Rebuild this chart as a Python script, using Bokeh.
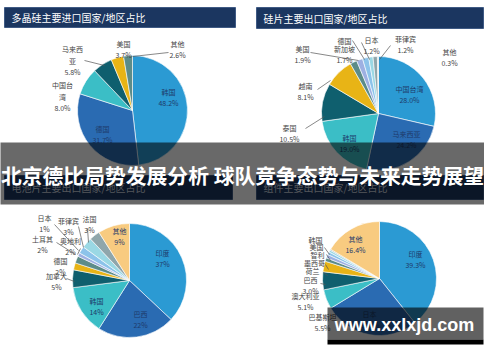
import math
from bokeh.plotting import figure
from bokeh.models import Range1d, ColumnDataSource
from bokeh.core.properties import value
from bokeh.embed import file_html
from bokeh.resources import INLINE

# ---------------- data ----------------
imp_title = "多晶硅主要进口国家/地区占比"
imp_names = ["韩国", "德国", "中国台湾", "马来西亚", "美国", "其他"]
imp_vals = [48.2, 31.7, 8.0, 5.8, 3.7, 2.6]

wafer_title = "硅片主要出口国家/地区占比"
wafer_names = ["中国台湾", "马来西亚", "韩国", "泰国", "越南", "美国", "德国", "新加坡", "日本", "菲律宾", "其他"]
wafer_vals = [28.0, 24.2, 19.0, 10.5, 8.1, 1.9, 1.7, 1.7, 1.2, 1.2, 0.3]

cell_title = "电池片主要出口国家/地区占比"
cell_names = ["印度", "巴西", "韩国", "加拿大", "德国", "土耳其", "日本", "奥地利", "菲律宾", "法国", "其他"]
cell_vals = [37, 22, 14, 5, 2, 2, 1, 2, 3, 3, 9]

mod_title = "组件主要出口国家/地区占比"
mod_names = ["印度", "日本", "巴基斯坦", "澳大利亚", "巴西", "荷兰", "墨西哥", "智利", "美国", "韩国", "其他"]
mod_vals = [39.3, 27.0, 5.5, 5.1, 3.0, 1.0, 1.0, 0.8, 0.6, 0.3, 16.4]

headline = "北京德比局势发展分析 球队竞争态势与未来走势展望"
watermark = "www.xxlxjd.com"

# ---------------- styles ----------------
H = 362
FONT = value("Noto Sans CJK SC")
C_LB, C_MB, C_TE, C_DT, C_GO = "#2B9AD3", "#2A6BB2", "#3BBEC6", "#0F5F6E", "#E8B416"
C_GT, C_LV, C_SK, C_CY, C_GR, C_PE = "#5C8C89", "#9DB0E2", "#8CC3EA", "#9AD8E4", "#8FA6AB", "#F8CB80"
NAVY = "#1B3660"
IN_TXT = "#1E3A6A"
OUT_TXT = "#444444"

def Y(y):
    return H - y

# 1 data unit == 1 screen pixel; the page margin of 8px is compensated by the ranges
p = figure(width=484, height=346, x_range=Range1d(8, 492), y_range=Range1d(8, 354),
           output_backend="svg", toolbar_location=None, min_border=0)
p.axis.visible = False
p.grid.visible = False
p.outline_line_color = None
p.background_fill_color = "white"
p.border_fill_color = "white"


def title_bar(x0, x1, y0, y1, text, tcolor="white"):
    p.quad(left=[x0], right=[x1], bottom=[Y(y1)], top=[Y(y0)], fill_color=NAVY,
           line_color="#2C4A78", line_width=0.8)
    p.text(x=[x0 + 7], y=[Y((y0 + y1) / 2)], text=[text], text_color=tcolor,
           text_font=FONT, text_font_size="10px", text_align="left", text_baseline="middle")


def pie(cx, cy, r, vals, colors):
    tot = sum(vals)
    cum = 0.0
    starts, ends = [], []
    for v in vals:
        a0 = math.pi / 2 - 2 * math.pi * (cum + v) / tot
        a1 = math.pi / 2 - 2 * math.pi * cum / tot
        starts.append(a0)
        ends.append(a1)
        cum += v
    src = ColumnDataSource(dict(x=[cx] * len(vals), y=[Y(cy)] * len(vals),
                                s=starts, e=ends, c=colors))
    p.wedge(x="x", y="y", radius=r, start_angle="s", end_angle="e", fill_color="c",
            line_color="white", line_width=0.6, source=src)


def labels(items, color):
    xs = [it[0] for it in items]
    ys = [Y(it[1]) for it in items]
    ts = [it[2] for it in items]
    p.text(x=xs, y=ys, text=ts, text_color=color, text_font=FONT, text_font_size="7px",
           text_align="center", text_baseline="middle", text_line_height=1.15)


def leaders(segs, color="#555555"):
    p.segment(x0=[s[0] for s in segs], y0=[Y(s[1]) for s in segs],
              x1=[s[2] for s in segs], y1=[Y(s[3]) for s in segs],
              line_color=color, line_width=0.7)


def pct(v, d=1):
    return ("%." + str(d) + "f%%") % v

# ---------------- top-left ----------------
title_bar(12, 243, 15, 35, imp_title)
pie(140, 118, 55, imp_vals, [C_LB, C_MB, C_TE, C_DT, C_GO, C_GT])
labels([(176, 105, imp_names[0] + "\n" + pct(imp_vals[0])),
        (110, 142, imp_names[1] + "\n" + pct(imp_vals[1]))], IN_TXT)
labels([(70, 104, "中国台\n湾\n" + pct(imp_vals[2])),
        (80, 68, "马来西\n亚\n" + pct(imp_vals[3])),
        (131, 57, imp_names[4] + "\n" + pct(imp_vals[4])),
        (185, 57, imp_names[5] + "\n" + pct(imp_vals[5]))], OUT_TXT)
leaders([(92, 68, 112, 73), (176, 60, 140, 64)])

# ---------------- top-right ----------------
title_bar(264, 491, 15, 36, wafer_title)
pie(386, 121, 57, wafer_vals, [C_LB, C_MB, C_TE, C_DT, C_GO, C_GT, C_LV, C_SK, C_CY, C_GR, "#B9C9CC"])
labels([(417, 102, wafer_names[0] + "\n" + pct(wafer_vals[0])),
        (414, 147, wafer_names[1] + "\n" + pct(wafer_vals[1])),
        (357, 151, wafer_names[2] + "\n" + pct(wafer_vals[2]))], IN_TXT)
labels([(297, 141, wafer_names[3] + "\n" + pct(wafer_vals[3])),
        (313, 99, wafer_names[4] + "\n" + pct(wafer_vals[4])),
        (310, 62, wafer_names[5] + "\n" + pct(wafer_vals[5])),
        (352, 48, wafer_names[6]),
        (352, 62, wafer_names[7] + "\n" + pct(wafer_vals[7])),
        (379, 53, wafer_names[8] + "\n" + pct(wafer_vals[8])),
        (413, 52, wafer_names[9] + "\n" + pct(wafer_vals[9])),
        (457, 65, wafer_names[10] + "\n" + pct(wafer_vals[10]))], OUT_TXT)
leaders([(313, 136, 332, 124), (325, 97, 338, 88), (318, 60, 366, 68),
         (360, 48, 372, 67), (369, 50, 377, 67), (398, 53, 387, 67)])

# ---------------- bottom-left ----------------
title_bar(12, 240, 183, 207, cell_title, tcolor="#C8CFDA")
pie(137, 288, 57, cell_vals, [C_LB, C_MB, C_TE, C_DT, C_GO, C_GT, C_LV, C_SK, C_CY, C_GR, C_PE])
labels([(170, 266, cell_names[0] + "\n" + pct(cell_vals[0], 0)),
        (148, 327, cell_names[1] + "\n" + pct(cell_vals[1], 0)),
        (104, 314, cell_names[2] + "\n" + pct(cell_vals[2], 0)),
        (127, 244, cell_names[10] + "\n" + pct(cell_vals[10], 0))], IN_TXT)
labels([(64, 289, cell_names[3] + "\n" + pct(cell_vals[3], 0)),
        (68, 274, cell_names[4] + "\n" + pct(cell_vals[4], 0)),
        (50, 252, cell_names[5] + "\n" + pct(cell_vals[5], 0)),
        (52, 231, cell_names[6] + "\n" + pct(cell_vals[6], 0)),
        (78, 254, cell_names[7] + "\n" + pct(cell_vals[7], 0)),
        (76, 234, cell_names[8] + "\n" + pct(cell_vals[8], 0)),
        (97, 232, cell_names[9] + "\n" + pct(cell_vals[9], 0))], OUT_TXT)
leaders([(74, 286, 82, 289), (62, 232, 86, 258), (86, 234, 91, 255),
         (95, 236, 96, 250), (88, 256, 85, 262), (64, 250, 83, 262)])

# ---------------- bottom-right ----------------
title_bar(264, 491, 183, 207, mod_title, tcolor="#C8CFDA")
pie(387, 286, 57, mod_vals, [C_LB, C_MB, C_TE, C_DT, C_GO, C_GT, C_LV, C_SK, C_CY, C_GR, C_PE])
labels([(423, 267, mod_names[0] + "\n" + pct(mod_vals[0])),
        (377, 327, mod_names[1] + "\n" + pct(mod_vals[1])),
        (363, 252, mod_names[10] + "\n" + pct(mod_vals[10]))], IN_TXT)
labels([(330, 330, mod_names[2] + "\n" + pct(mod_vals[2])),
        (313, 309, mod_names[3] + "\n" + pct(mod_vals[3])),
        (318, 293, mod_names[4] + "\n" + pct(mod_vals[4])),
        (320, 278, mod_names[5]),
        (322, 270, mod_names[6]),
        (325, 262, mod_names[7]),
        (324, 254, mod_names[8]),
        (323, 247, mod_names[9])], OUT_TXT)
leaders([(328, 291, 333, 292), (331, 280, 335, 283), (333, 272, 336, 277),
         (334, 262, 338, 268), (332, 255, 337, 262)])

# ---------------- overlays ----------------
p.quad(left=[5], right=[495], bottom=[Y(212)], top=[Y(150)], fill_color="black",
       fill_alpha=0.59, line_color=None)
p.text(x=[250], y=[Y(182)], text=[headline], text_color="white", text_font=FONT,
       text_font_style="bold", text_font_size="20.8px", text_align="center", text_baseline="middle")

p.quad(left=[335], right=[491], bottom=[Y(347)], top=[Y(315)], fill_color="black",
       fill_alpha=0.62, line_color=None)
p.quad(left=[335], right=[491], bottom=[Y(352)], top=[Y(347)], fill_color="black",
       line_color=None)
p.text(x=[412], y=[Y(332)], text=[watermark], text_color="white", text_font=value("Liberation Sans"),
       text_font_style="bold", text_font_size="18px", text_align="center", text_baseline="middle")

open("out.html", "w").write(file_html(p, INLINE))
